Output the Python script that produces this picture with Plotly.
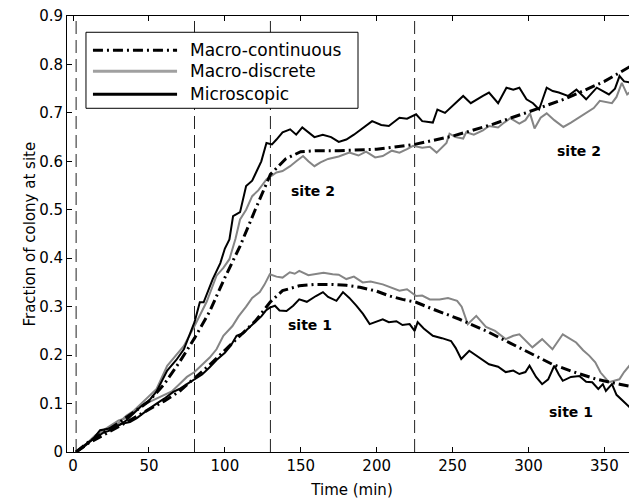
import plotly.graph_objects as go

# time (min) and fraction of colony
cont2_t = [2, 10, 20, 30, 40, 50, 60, 70, 80, 90, 100, 110, 120, 130, 140, 150, 160, 175, 200, 225,
           250, 275, 300, 325, 350, 371.5]
cont2_y = [0, 0.02, 0.04, 0.06, 0.082, 0.105, 0.14, 0.185, 0.235, 0.29, 0.36, 0.425, 0.50, 0.573, 0.605,
           0.62, 0.622, 0.622, 0.625, 0.635, 0.652, 0.675, 0.702, 0.73, 0.765, 0.804]

micro2_t = [2, 5, 10, 15, 20, 25, 30, 35, 40, 45, 50, 55, 62, 68, 73, 80, 83.5, 86, 92, 97, 100, 103,
            105.4, 110, 114, 118, 121, 124, 127.4, 131, 134, 138, 143, 147, 151, 155, 159, 164.5, 170,
            175, 180, 185, 190, 197, 203, 208, 215, 220, 226, 230, 237, 240, 245, 250, 257, 262, 266,
            270, 274, 280, 285.5, 290, 294, 298.7, 303, 307, 312, 316, 320, 326, 331.6, 338, 345, 349,
            353, 357, 360, 363, 366.5, 371.5]
micro2_y = [0, 0.008, 0.02, 0.03, 0.04, 0.045, 0.055, 0.065, 0.08, 0.095, 0.106, 0.125, 0.168, 0.19,
            0.212, 0.268, 0.309, 0.309, 0.357, 0.39, 0.42, 0.439, 0.487, 0.495, 0.549, 0.56, 0.58, 0.6,
            0.638, 0.635, 0.645, 0.66, 0.666, 0.655, 0.67, 0.66, 0.65, 0.655, 0.65, 0.64, 0.645, 0.655,
            0.666, 0.683, 0.675, 0.673, 0.69, 0.688, 0.697, 0.683, 0.68, 0.707, 0.70, 0.715, 0.735, 0.72,
            0.728, 0.735, 0.742, 0.72, 0.752, 0.748, 0.752, 0.728, 0.72, 0.707, 0.752, 0.745, 0.742,
            0.735, 0.748, 0.728, 0.752, 0.745, 0.738, 0.75, 0.776, 0.765, 0.763, 0.779]

disc2_t = [2, 6, 10, 15, 20, 25, 30, 35, 40, 45, 50, 55, 62, 68, 73, 80, 83.5, 88, 94.5, 99, 103, 107,
           110, 114, 118, 122, 127.5, 131, 134, 138, 143, 147, 151.5, 155, 159, 163, 168, 175, 182, 188,
           193, 199, 204, 210, 215, 220, 224, 230, 235, 239.5, 246, 248, 252, 257, 259, 264, 270, 274,
           280, 284, 288, 294, 298, 301, 304, 308, 312, 317, 323, 328, 334, 338, 343, 347, 351.6, 355,
           358, 361.5, 365, 368, 371.5]
disc2_y = [0, 0.01, 0.02, 0.035, 0.045, 0.05, 0.06, 0.075, 0.085, 0.1, 0.116, 0.13, 0.178, 0.2, 0.219,
           0.26, 0.281, 0.31, 0.364, 0.38, 0.398, 0.44, 0.48, 0.50, 0.528, 0.54, 0.563, 0.57, 0.577, 0.58,
           0.59, 0.60, 0.611, 0.6, 0.59, 0.598, 0.605, 0.61, 0.618, 0.612, 0.62, 0.608, 0.611, 0.622,
           0.618, 0.625, 0.632, 0.628, 0.63, 0.618, 0.638, 0.657, 0.65, 0.647, 0.66, 0.655, 0.664, 0.673,
           0.67, 0.68, 0.689, 0.678, 0.685, 0.699, 0.668, 0.69, 0.699, 0.685, 0.671, 0.68, 0.692, 0.70,
           0.71, 0.725, 0.723, 0.72, 0.733, 0.762, 0.738, 0.745, 0.755]

cont1_t = [2, 10, 20, 30, 40, 50, 60, 70, 80, 90, 100, 110, 120, 125, 130, 138, 149, 160, 171, 180,
           189, 200, 208.5, 217, 226, 237, 254.6, 272, 294, 315.8, 330, 345, 360, 371.5]
cont1_y = [0, 0.018, 0.035, 0.052, 0.07, 0.088, 0.105, 0.125, 0.152, 0.18, 0.21, 0.24, 0.27, 0.29, 0.31,
           0.333, 0.343, 0.346, 0.346, 0.344, 0.34, 0.332, 0.322, 0.315, 0.309, 0.295, 0.274, 0.25,
           0.216, 0.181, 0.165, 0.15, 0.14, 0.133]

micro1_t = [2, 6, 10, 14, 17.8, 22, 27, 32, 37.5, 42, 46, 50, 55, 60, 66, 70, 75, 80, 85, 90, 94.5,
            100, 104, 107.7, 112, 116.4, 120, 124, 127, 129.6, 133, 136, 140.6, 145, 149, 154, 160,
            164.6, 168, 173.5, 177.8, 182, 186.6, 191, 195.4, 200, 204, 208, 213, 217, 221.7, 225, 227,
            231, 237, 243, 249, 252, 255.7, 261, 265, 270, 274, 280, 285, 290, 294, 298, 300.7, 305, 309,
            313, 317, 320, 322.6, 328, 333.5, 338, 342, 346, 349, 351, 355, 358, 361.8, 366.4, 368, 371.5]
micro1_y = [0, 0.008, 0.018, 0.03, 0.045, 0.048, 0.05, 0.058, 0.062, 0.07, 0.08, 0.089, 0.1, 0.11, 0.124,
            0.13, 0.14, 0.15, 0.16, 0.175, 0.19, 0.205, 0.22, 0.24, 0.245, 0.258, 0.268, 0.28, 0.292,
            0.298, 0.302, 0.292, 0.291, 0.302, 0.315, 0.31, 0.322, 0.33, 0.32, 0.312, 0.33, 0.318, 0.302,
            0.285, 0.264, 0.27, 0.274, 0.268, 0.27, 0.262, 0.264, 0.25, 0.268, 0.255, 0.24, 0.235, 0.229,
            0.215, 0.192, 0.209, 0.2, 0.19, 0.181, 0.176, 0.165, 0.168, 0.161, 0.165, 0.178, 0.155, 0.14,
            0.15, 0.178, 0.16, 0.147, 0.155, 0.157, 0.145, 0.144, 0.13, 0.14, 0.126, 0.14, 0.118, 0.106,
            0.093, 0.1, 0.099]

disc1_t = [2, 6, 10, 15, 20, 25, 30, 35, 40, 45, 50, 55, 60, 65, 70, 75, 80, 85, 90, 94.5, 99, 105,
           109, 114, 118, 123, 126, 129.6, 134, 138, 142.8, 146, 149, 155, 160, 165, 171, 175, 180, 185,
           190.8, 196, 204, 209, 215, 220, 226, 230, 235, 241.4, 247, 253, 256, 260, 265.6, 272, 278,
           285, 290, 294, 298, 302.6, 309, 315.8, 322.6, 327, 331.4, 336, 340, 344, 347.5, 353, 359.9,
           363, 366.4, 369, 371.5]
disc1_y = [0, 0.01, 0.02, 0.035, 0.045, 0.055, 0.065, 0.07, 0.082, 0.095, 0.103, 0.11, 0.118, 0.125,
           0.14, 0.155, 0.165, 0.18, 0.195, 0.212, 0.24, 0.26, 0.28, 0.30, 0.318, 0.33, 0.345, 0.367,
           0.362, 0.36, 0.371, 0.368, 0.374, 0.365, 0.367, 0.37, 0.367, 0.366, 0.357, 0.362, 0.35, 0.352,
           0.346, 0.34, 0.333, 0.336, 0.322, 0.323, 0.315, 0.315, 0.318, 0.312, 0.3, 0.264, 0.281,
           0.258, 0.25, 0.233, 0.24, 0.243, 0.23, 0.216, 0.233, 0.212, 0.243, 0.235, 0.226, 0.21, 0.199,
           0.185, 0.164, 0.144, 0.15, 0.165, 0.178, 0.16, 0.155]

phase_times = [2, 80, 130, 225]
site_labels = ["site 2", "site 2", "site 1", "site 1"]
site_label_x = [158, 333, 156, 328]
site_label_y = [0.538, 0.622, 0.262, 0.083]

legend_names = ["Macro-continuous", "Macro-discrete", "Microscopic"]

FONT = "DejaVu Sans"
GRAY = "#858585"
DASHDOT = "10px,4px,2px,4px"

fig = go.Figure()

def add(t, y, color, width, dash="solid"):
    fig.add_trace(go.Scatter(x=t, y=y, mode="lines", showlegend=False,
                             line=dict(color=color, width=width, dash=dash)))

# gray first, then black on top
add(disc1_t, disc1_y, GRAY, 2)
add(disc2_t, disc2_y, GRAY, 2)
add(micro1_t, micro1_y, "black", 2)
add(micro2_t, micro2_y, "black", 2)
add(cont1_t, cont1_y, "black", 3, DASHDOT)
add(cont2_t, cont2_y, "black", 3, DASHDOT)

for xv in phase_times:
    fig.add_shape(type="line", x0=xv, x1=xv, y0=0, y1=0.9, xref="x", yref="y",
                  line=dict(color="#222", width=1, dash="13px,6px"), layer="below")

for txt, xv, yv in zip(site_labels, site_label_x, site_label_y):
    fig.add_annotation(x=xv, y=yv, text="<b>%s</b>" % txt, showarrow=False,
                       font=dict(family=FONT, size=14, color="black"))

# hand-made legend box (long line samples like the matlab legend)
fig.add_shape(type="rect", x0=8.5, x1=187.7, y0=0.7095, y1=0.8664, xref="x", yref="y",
              line=dict(color="black", width=1), fillcolor="white")
leg_styles = [("black", 3, DASHDOT), ("#a0a0a0", 3, "solid"), ("black", 3, "solid")]
leg_y = [0.8293, 0.786, 0.7386]
for name, (c, w, d), yv in zip(legend_names, leg_styles, leg_y):
    fig.add_shape(type="line", x0=13.1, x1=68.5, y0=yv, y1=yv, xref="x", yref="y",
                  line=dict(color=c, width=w, dash=d))
    fig.add_annotation(x=75.7, y=yv, text=name, showarrow=False, xanchor="left",
                       font=dict(family=FONT, size=17, color="black"))

# y title as an annotation so it can sit closer to the page edge
fig.add_annotation(xref="paper", yref="paper", x=-0.085, y=0.5, text="Fraction of colony at site",
                   textangle=-90, showarrow=False, font=dict(family=FONT, size=15, color="black"))

# the page has an 8px body margin, so the figure is 8px smaller and margins shifted
fig.update_layout(
    width=629, height=491,
    margin=dict(l=59, r=0, t=8, b=47),
    paper_bgcolor="white", plot_bgcolor="white",
    font=dict(family=FONT, size=15, color="black"),
    xaxis=dict(range=[-4, 371.5], tickvals=[0, 50, 100, 150, 200, 250, 300, 350],
               ticks="inside", ticklen=5, tickcolor="black", showline=True, linecolor="black",
               mirror="ticks", showgrid=False, zeroline=False, ticklabeloverflow="allow",
               title=dict(text="Time (min)", font=dict(size=15), standoff=10)),
    yaxis=dict(range=[0, 0.9], tickvals=[0, 0.1, 0.2, 0.3, 0.4, 0.5, 0.6, 0.7, 0.8, 0.9],
               ticktext=["0", "0.1", "0.2", "0.3", "0.4", "0.5", "0.6", "0.7", "0.8", "0.9"],
               ticks="inside", ticklen=5, tickcolor="black", showline=True, linecolor="black",
               showgrid=False, zeroline=False, ticklabeloverflow="allow"),
)

fig.write_html("out.html")
